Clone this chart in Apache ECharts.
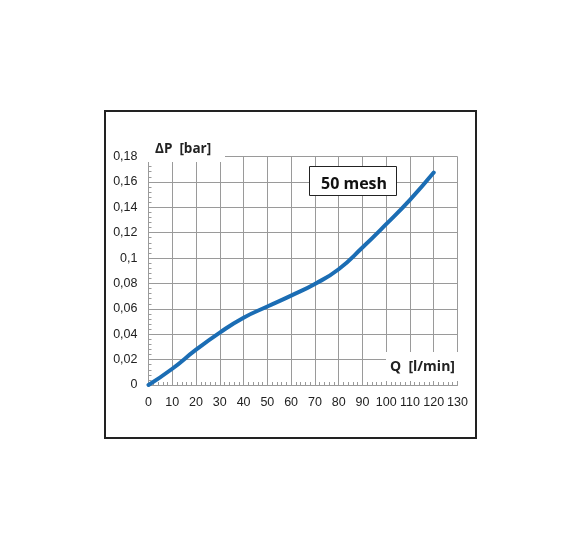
<!DOCTYPE html>
<html><head><meta charset="utf-8">
<script src="https://cdn.jsdelivr.net/npm/echarts@6/dist/echarts.min.js"></script>
<style>html,body{margin:0;padding:0;background:#fff}#c{width:581px;height:549px}</style>
</head><body><div id="c"></div>
<script>
const flowQ = [0,10,20,30,40,50,60,70,80,90,100,110,120];
const deltaP = [0,0.0128,0.0278,0.0413,0.053,0.0618,0.0704,0.0796,0.0912,0.1083,0.1267,0.1459,0.1674];
const xTickLabels = ['0','10','20','30','40','50','60','70','80','90','100','110','120','130'];
const yTickLabels = ['0','0,02','0,04','0,06','0,08','0,1','0,12','0,14','0,16','0,18'];
const yAxisTitle = 'ΔP  [bar]';
const xAxisTitle = 'Q  [l/min]';
const meshLabel = '50 mesh';

const chart = echarts.init(document.getElementById('c'), null, {renderer:'canvas'});
const gridCol = '#9a9a9a';
chart.setOption({
  animation:false,
  backgroundColor:'#fff',
  grid:{left:148.5, right:123.5, top:156.5, bottom:164},
  xAxis:{type:'value', min:0, max:130, interval:10,
    axisLine:{show:true, lineStyle:{color:gridCol, width:1}},
    axisTick:{show:true, inside:true, length:4, lineStyle:{color:gridCol}},
    minorTick:{show:true, splitNumber:5, length:3, lineStyle:{color:gridCol}},
    splitLine:{show:true, lineStyle:{color:gridCol, width:1}},
    axisLabel:{margin:11, color:'#222', fontFamily:'Liberation Sans', fontSize:12.5,
      formatter:v=>xTickLabels[Math.round(v/10)]}
  },
  yAxis:{type:'value', min:0, max:0.18, interval:0.02,
    axisLine:{show:true, lineStyle:{color:gridCol, width:1}},
    axisTick:{show:true, inside:true, length:4, lineStyle:{color:gridCol}},
    minorTick:{show:true, splitNumber:5, length:3, lineStyle:{color:gridCol}},
    splitLine:{show:true, lineStyle:{color:gridCol, width:1}},
    axisLabel:{margin:11, color:'#222', fontFamily:'Liberation Sans', fontSize:12.5,
      formatter:v=>yTickLabels[Math.round(v/0.02)]}
  },
  series:[{type:'line', data:flowQ.map((q,i)=>[q,deltaP[i]]), smooth:0.5, showSymbol:false,
    lineStyle:{color:'#1b6db4', width:4, cap:'round'}, z:5}],
  graphic:[
    {type:'rect', z:100, shape:{x:105, y:111, width:371, height:327}, style:{fill:'none', stroke:'#222', lineWidth:2}},
    {type:'rect', z:100, shape:{x:143, y:138, width:82, height:24}, style:{fill:'#fff'}},
    {type:'text', z:101, x:155, y:149, style:{text:yAxisTitle, font:'bold 13.5px "Open Sans"', fill:'#222', textVerticalAlign:'middle', verticalAlign:'middle'}},
    {type:'rect', z:100, shape:{x:386, y:352, width:75, height:29}, style:{fill:'#fff'}},
    {type:'text', z:101, x:390, y:367.5, style:{text:xAxisTitle, font:'bold 14px "Open Sans"', fill:'#222', textVerticalAlign:'middle', verticalAlign:'middle'}},
    {type:'rect', z:100, shape:{x:309.5, y:166.5, width:87, height:29}, style:{fill:'#fff', stroke:'#222', lineWidth:1}},
    {type:'text', z:101, x:321, y:184, style:{text:meshLabel, font:'bold 16px "Open Sans"', fill:'#111', textVerticalAlign:'middle', verticalAlign:'middle'}}
  ]
});
</script></body></html>
